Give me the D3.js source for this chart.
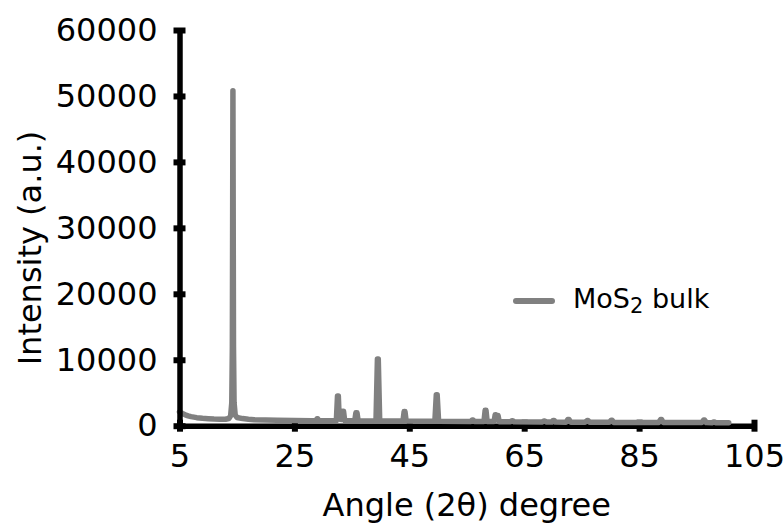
<!DOCTYPE html>
<html>
<head>
<meta charset="utf-8">
<script src="https://cdn.jsdelivr.net/npm/d3@7"></script>
<style>
  html, body { margin: 0; padding: 0; background: #fff; }
  svg { display: block; }
  text { font-family: "DejaVu Sans", sans-serif; fill: #000; }
</style>
</head>
<body>
<svg id="chart" width="784" height="525"></svg>
<script>
// ---- data ----
const angles = [
  5.0, 5.5, 6.0, 6.5, 7.0, 8.0, 9.0, 10.0, 11.0, 12.0, 13.0, 13.6, 13.9, 14.1, 14.2, 14.3, 14.4, 14.5, 14.7,
  15.0, 16.0, 17.0, 18.0, 20.0, 22.0, 25.0, 28.0, 28.75, 28.95, 29.05, 29.25,
  32.0, 32.3, 32.5, 32.65, 32.8, 33.2, 33.4, 33.55, 33.75, 35.5, 35.7, 35.9, 36.1,
  39.2, 39.45, 39.6, 39.85, 43.9, 44.1, 44.25, 44.45, 49.45, 49.7, 49.85, 50.1,
  55.7, 55.95, 56.1, 56.35, 58.0, 58.2, 58.35, 58.55, 59.75, 59.95, 60.1, 60.25, 60.45, 60.65,
  62.6, 62.85, 63.0, 63.25, 68.1, 68.45, 68.6, 68.9, 69.8, 70.05, 70.2, 70.45, 72.3, 72.6, 72.8, 73.1,
  75.6, 75.95, 76.1, 76.4, 79.8, 80.15, 80.3, 80.6, 88.4, 88.75, 88.9, 89.2, 95.9, 96.25, 96.4, 96.7,
  97.7, 97.95, 98.1, 98.3, 100.6
];
const intensity = [
  2100, 1850, 1650, 1500, 1380, 1220, 1120, 1060, 1010, 980, 980, 1100, 1500, 3500, 12000, 50800, 12000, 3500, 1600,
  1250, 1080, 980, 920, 860, 820, 780, 760, 780, 1050, 1050, 770,
  750, 760, 4500, 4500, 1000, 950, 2200, 2200, 760, 740, 1950, 1950, 740,
  720, 10100, 10100, 720, 700, 2150, 2150, 700, 680, 4700, 4700, 680,
  640, 850, 850, 640, 630, 2350, 2350, 630, 620, 1650, 1650, 1550, 1550, 610,
  600, 750, 750, 590, 560, 700, 700, 560, 550, 800, 800, 550, 540, 950, 950, 540,
  530, 780, 780, 520, 510, 820, 820, 500, 490, 950, 950, 480, 470, 850, 850, 470,
  460, 560, 560, 460, 450
];
const xTicks = [5, 25, 45, 65, 85, 105];
const yTicks = [0, 10000, 20000, 30000, 40000, 50000, 60000];
const xLabel = "Angle (2θ) degree";
const yLabel = "Intensity (a.u.)";
const seriesName = ["MoS", "2", " bulk"];

// ---- drawing ----
const svg = d3.select("#chart");
svg.append("rect").attr("width", 784).attr("height", 525).attr("fill", "#fff");

const x = d3.scaleLinear().domain([5, 105]).range([179.5, 754]);
const y = d3.scaleLinear().domain([0, 60000]).range([425.7, 30]);
const FS = 32;

// x axis (drawn under the data)
const gx = svg.append("g").attr("transform", `translate(0,${y(0)})`)
  .call(d3.axisBottom(x).tickValues(xTicks).tickSize(0).tickSizeOuter(0).tickFormat(d3.format("d")));
gx.select(".domain").attr("stroke", "#000").attr("stroke-width", 5.5);
gx.selectAll(".tick line").attr("y1", -6).attr("y2", 6).attr("stroke", "#000").attr("stroke-width", 6);
gx.selectAll(".tick text").attr("y", 41.5).attr("dy", 0)
  .style("font-size", FS + "px").style("font-family", "DejaVu Sans").attr("fill", "#000");

// data line
const pts = angles.map((a, i) => [a, intensity[i]]);
const line = d3.line().x(d => x(d[0])).y(d => y(d[1]));
svg.append("path").datum(pts)
  .attr("d", line)
  .attr("fill", "none")
  .attr("stroke", "#808080")
  .attr("stroke-width", 5.5)
  .attr("stroke-linejoin", "round")
  .attr("stroke-linecap", "round");

// y axis (drawn over the data)
const gy = svg.append("g").attr("transform", `translate(${x(5)},0)`)
  .call(d3.axisLeft(y).tickValues(yTicks).tickSize(0).tickSizeOuter(0).tickPadding(22).tickFormat(d3.format("d")));
gy.select(".domain").attr("stroke", "#000").attr("stroke-width", 5.5);
gy.selectAll(".tick line").attr("x1", -6).attr("x2", 6).attr("stroke", "#000").attr("stroke-width", 6);
gy.selectAll(".tick text").style("font-size", FS + "px").style("font-family", "DejaVu Sans").attr("fill", "#000");

// axis labels
svg.append("text")
  .attr("x", (x.range()[0] + x.range()[1]) / 2)
  .attr("y", 516)
  .attr("text-anchor", "middle")
  .style("font-size", FS + "px")
  .text(xLabel);

svg.append("text")
  .attr("transform", "translate(41,248) rotate(-90)")
  .attr("text-anchor", "middle")
  .style("font-size", FS + "px")
  .text(yLabel);

// legend
const lg = svg.append("g");
lg.append("line").attr("x1", 516).attr("x2", 552).attr("y1", 301).attr("y2", 301)
  .attr("stroke", "#808080").attr("stroke-width", 6).attr("stroke-linecap", "round");
const lt = lg.append("text").attr("x", 573).attr("y", 308).style("font-size", "27px");
lt.append("tspan").text(seriesName[0]);
lt.append("tspan").attr("dy", 5).style("font-size", "21px").text(seriesName[1]);
lt.append("tspan").attr("dy", -5).text(seriesName[2]);
</script>
</body>
</html>
